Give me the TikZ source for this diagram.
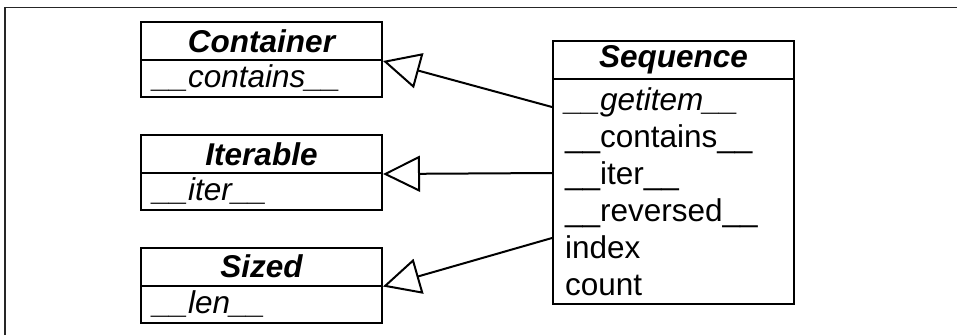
\documentclass[tikz,border=0pt]{standalone}
\usepackage{fontspec}
\setmainfont{Liberation Sans}
\usetikzlibrary{arrows.meta}

\tikzset{
  classtitle/.style={draw, line width=2pt, minimum width=241pt, minimum height=38pt, inner sep=0pt, font=\bfseries\itshape},
  classbody/.style={draw, line width=2pt, text width=217pt, inner xsep=12pt, inner ysep=0pt, minimum height=37pt, align=left},
  inherits/.style={line width=2pt, -{Triangle[open, length=37pt, width=36pt, line width=2pt]}},
}

\begin{document}
\fontsize{31.5}{37}\selectfont
\begin{tikzpicture}[x=1pt, y=-1pt]
    \path[use as bounding box] (0,0) rectangle (957,335);

    \draw [line width=1.6pt, black!85] (4.7,335) -- (4.7,7.3) -- (957,7.3);

    \node (container-title) at (261.5,41) [classtitle] {Container};
    \node (container-body) at (261.5,78.5) [classbody] {\itshape \_\_contains\_\_};

    \node (iterable-title) at (261.5,154) [classtitle] {Iterable};
    \node (iterable-body) at (261.5,191.5) [classbody] {\itshape \_\_iter\_\_};

    \node (sized-title) at (261.5,266.5) [classtitle] {Sized};
    \node (sized-body) at (261.5,304) [classbody] {\itshape \_\_len\_\_};

    \node (sequence-title) at (673.5,60) [classtitle] {Sequence};
    \node (sequence-body) at (673.5,191.5) [classbody, minimum height=225pt] {{\itshape \_\_getitem\_\_}\\
      \_\_contains\_\_\\
      \_\_iter\_\_\\
      \_\_reversed\_\_\\
      index\\
      count};

    \coordinate (container-port) at (552,107);
    \coordinate (iterable-port) at (552,173);
    \coordinate (sized-port) at (552,238);

    \draw [inherits] (container-port) -- (container-title.south east);
    \draw [inherits] (iterable-port) -- (iterable-title.south east);
    \draw [inherits] (sized-port) -- (sized-title.south east);
  \end{tikzpicture}
\end{document}
